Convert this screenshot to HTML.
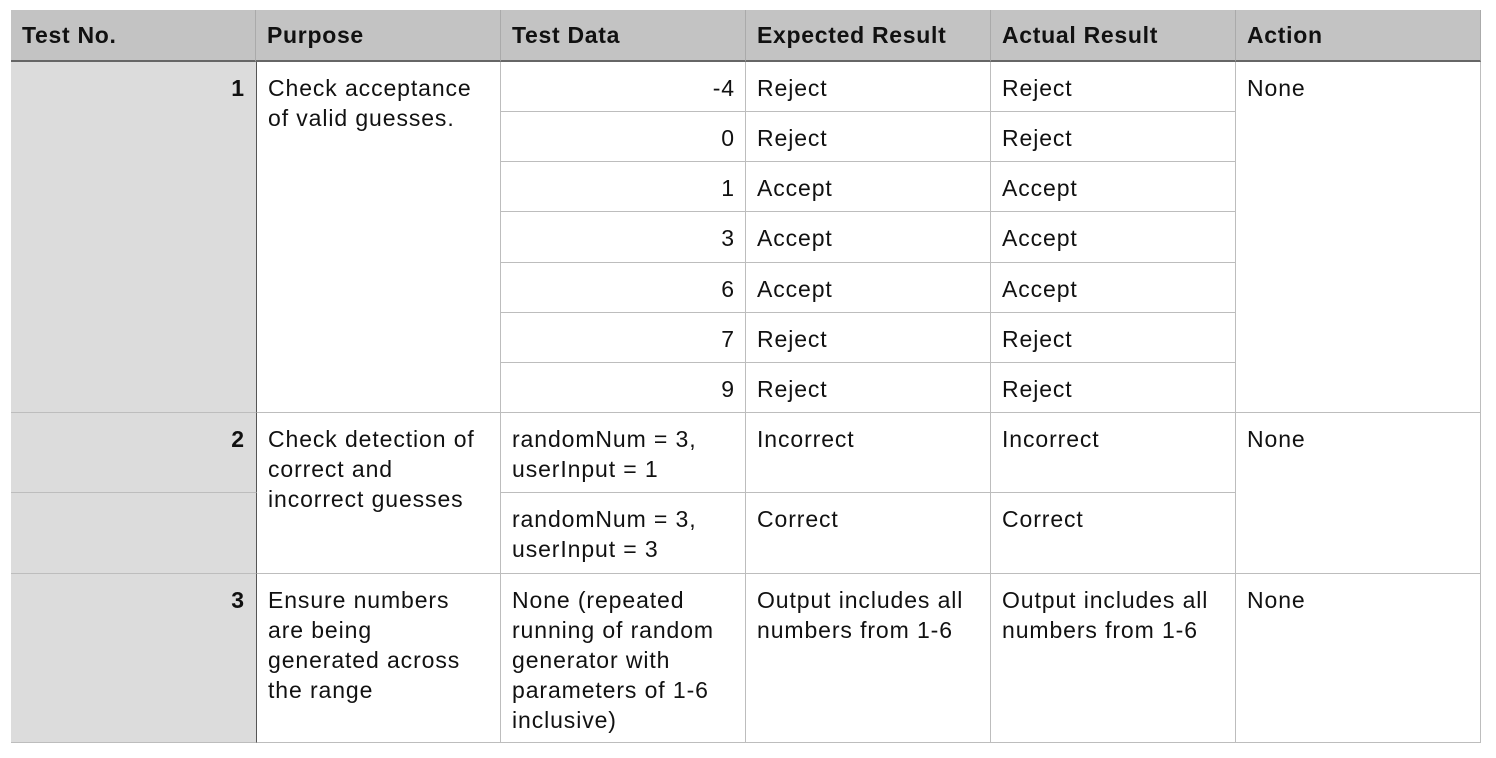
<!DOCTYPE html>
<html><head><style>
body{margin:0;background:#fff;width:1496px;height:758px;position:relative;font-family:"Liberation Sans",Arial,sans-serif;font-size:23px;letter-spacing:0.9px;color:#111;overflow:hidden}
.c{position:absolute;box-sizing:border-box;padding:11px 11px 0 11px;line-height:30px;border-right:1px solid #bdbdbd;border-bottom:1px solid #bdbdbd;white-space:nowrap}
.h{background:#c3c3c3;font-weight:bold;border-bottom:2px solid #666;border-right:1px solid #aaa;padding-top:10px;letter-spacing:0.7px}
.n{background:#dcdcdc;text-align:right;font-weight:bold;padding-right:11px;border-right:1px solid #555}
.r{text-align:right;padding-right:10px}
</style></head><body>
<div style="position:absolute;left:11px;top:10px;width:1470px;height:733px;border:1px solid #bdbdbd;box-sizing:border-box"></div>
<div class="c h" style="left:11px;top:10px;width:245px;height:52px">Test No.</div>
<div class="c h" style="left:256px;top:10px;width:245px;height:52px">Purpose</div>
<div class="c h" style="left:501px;top:10px;width:245px;height:52px">Test Data</div>
<div class="c h" style="left:746px;top:10px;width:245px;height:52px">Expected Result</div>
<div class="c h" style="left:991px;top:10px;width:245px;height:52px">Actual Result</div>
<div class="c h" style="left:1236px;top:10px;width:245px;height:52px">Action</div>

<div class="c n" style="left:11px;top:62px;width:246px;height:351px">1</div>
<div class="c" style="left:257px;top:62px;width:244px;height:351px">Check acceptance<br>of valid guesses.</div>
<div class="c" style="left:1236px;top:62px;width:245px;height:351px">None</div>

<div class="c r" style="left:501px;top:62px;width:245px;height:50px">-4</div>
<div class="c" style="left:746px;top:62px;width:245px;height:50px">Reject</div>
<div class="c" style="left:991px;top:62px;width:245px;height:50px">Reject</div>
<div class="c r" style="left:501px;top:112px;width:245px;height:50px">0</div>
<div class="c" style="left:746px;top:112px;width:245px;height:50px">Reject</div>
<div class="c" style="left:991px;top:112px;width:245px;height:50px">Reject</div>
<div class="c r" style="left:501px;top:162px;width:245px;height:50px">1</div>
<div class="c" style="left:746px;top:162px;width:245px;height:50px">Accept</div>
<div class="c" style="left:991px;top:162px;width:245px;height:50px">Accept</div>
<div class="c r" style="left:501px;top:212px;width:245px;height:51px">3</div>
<div class="c" style="left:746px;top:212px;width:245px;height:51px">Accept</div>
<div class="c" style="left:991px;top:212px;width:245px;height:51px">Accept</div>
<div class="c r" style="left:501px;top:263px;width:245px;height:50px">6</div>
<div class="c" style="left:746px;top:263px;width:245px;height:50px">Accept</div>
<div class="c" style="left:991px;top:263px;width:245px;height:50px">Accept</div>
<div class="c r" style="left:501px;top:313px;width:245px;height:50px">7</div>
<div class="c" style="left:746px;top:313px;width:245px;height:50px">Reject</div>
<div class="c" style="left:991px;top:313px;width:245px;height:50px">Reject</div>
<div class="c r" style="left:501px;top:363px;width:245px;height:50px">9</div>
<div class="c" style="left:746px;top:363px;width:245px;height:50px">Reject</div>
<div class="c" style="left:991px;top:363px;width:245px;height:50px">Reject</div>

<div class="c n" style="left:11px;top:413px;width:246px;height:80px">2</div>
<div class="c n" style="left:11px;top:493px;width:246px;height:81px"></div>
<div class="c" style="left:257px;top:413px;width:244px;height:161px">Check detection of<br>correct and<br>incorrect guesses</div>
<div class="c" style="left:501px;top:413px;width:245px;height:80px">randomNum = 3,<br>userInput = 1</div>
<div class="c" style="left:746px;top:413px;width:245px;height:80px">Incorrect</div>
<div class="c" style="left:991px;top:413px;width:245px;height:80px">Incorrect</div>
<div class="c" style="left:501px;top:493px;width:245px;height:81px">randomNum = 3,<br>userInput = 3</div>
<div class="c" style="left:746px;top:493px;width:245px;height:81px">Correct</div>
<div class="c" style="left:991px;top:493px;width:245px;height:81px">Correct</div>
<div class="c" style="left:1236px;top:413px;width:245px;height:161px">None</div>

<div class="c n" style="left:11px;top:574px;width:246px;height:169px">3</div>
<div class="c" style="left:257px;top:574px;width:244px;height:169px">Ensure numbers<br>are being<br>generated across<br>the range</div>
<div class="c" style="left:501px;top:574px;width:245px;height:169px">None (repeated<br>running of random<br>generator with<br>parameters of 1-6<br>inclusive)</div>
<div class="c" style="left:746px;top:574px;width:245px;height:169px">Output includes all<br>numbers from 1-6</div>
<div class="c" style="left:991px;top:574px;width:245px;height:169px">Output includes all<br>numbers from 1-6</div>
<div class="c" style="left:1236px;top:574px;width:245px;height:169px">None</div>
</body></html>
